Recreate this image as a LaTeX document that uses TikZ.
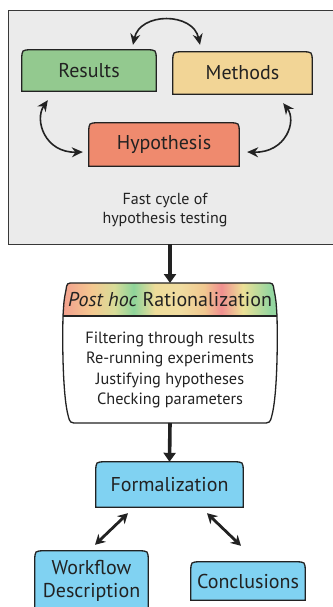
\documentclass[tikz,border=0pt]{standalone}
\usepackage{fontspec}
\setmainfont{PT Sans}
\usetikzlibrary{arrows.meta,calc}
\pgfdeclarelayer{bg}
\pgfsetlayers{bg,main}
\definecolor{grayfill}{HTML}{EBEBEB}
\definecolor{resgreen}{HTML}{93C98F}
\definecolor{mettan}{HTML}{F2D596}
\definecolor{hypred}{HTML}{EF8A6E}
\definecolor{boxblue}{HTML}{80D2F2}
\definecolor{ink}{HTML}{222222}
\definecolor{rc1}{HTML}{F3A08E}
\definecolor{rc2}{HTML}{F4C890}
\definecolor{rc3}{HTML}{D8DC98}
\definecolor{rc4}{HTML}{8ED49A}
\definecolor{rc5}{HTML}{EEDC9A}
\definecolor{rc6}{HTML}{F0DCA0}
\definecolor{rc7}{HTML}{F0C890}
\definecolor{rc8}{HTML}{F09090}
\definecolor{rc9}{HTML}{ECE096}
\definecolor{rc10}{HTML}{94D6A0}
\pgfdeclarehorizontalshading{rainbow}{100bp}{color(0bp)=(rc1); color(25bp)=(rc1); color(31.75bp)=(rc2); color(37bp)=(rc3); color(41.5bp)=(rc4); color(46.5bp)=(rc5); color(52.5bp)=(rc6); color(58bp)=(rc7); color(62bp)=(rc8); color(67bp)=(rc9); color(73.5bp)=(rc10); color(100bp)=(rc10)}
\newcommand\tabshape[2]{%
  \begin{pgfonlayer}{bg}
  \filldraw[fill=#2,draw=ink,line width=1.3pt]
    (#1.south west) -- ([yshift=-10pt]#1.north west)
    .. controls (#1.north west) .. ([xshift=10pt]#1.north west)
    -- ([xshift=-10pt]#1.north east)
    .. controls (#1.north east) .. ([yshift=-10pt]#1.north east)
    -- (#1.south east) -- cycle;
  \end{pgfonlayer}}
\tikzset{
  boxnode/.style={minimum width=#1,inner sep=0pt,text=ink,font=\fontsize{20}{23}\selectfont,align=center},
  cyclearrow/.style={draw=ink,line width=1.6pt,{Stealth[length=11pt,width=10pt]}-{Stealth[length=11pt,width=10pt]}},
  bigarrow/.style={draw=ink,line width=3.6pt,-{Triangle[length=9pt,width=12pt]}},
  dblarrow/.style={draw=ink,line width=2.8pt,{Stealth[length=10pt,width=11pt]}-{Stealth[length=10pt,width=11pt]}},
  plaintext/.style={text=ink,align=center,inner sep=0pt}
}
\begin{document}
\begin{tikzpicture}[x=1pt,y=-1pt]
\useasboundingbox (0,0) rectangle (332,607);
% grey cycle panel
\node[draw=none,minimum width=326pt,minimum height=233pt,inner sep=0pt] (cyc) at (172,127.5) {};
\begin{pgfonlayer}{bg}
\fill[grayfill] (cyc.north west) rectangle (cyc.south east);
\draw[draw=ink!90,line width=1.1pt] (cyc.north east) -- (cyc.north west) -- (cyc.south west) -- (cyc.south east);
\end{pgfonlayer}
% boxes in the cycle
\node[boxnode=134pt,minimum height=41pt] (res) at (89,70.5) {Results};
\tabshape{res}{resgreen}
\node[boxnode=139pt,minimum height=42pt] (met) at (242.5,73) {Methods};
\tabshape{met}{mettan}
\node[boxnode=150pt,minimum height=43pt] (hyp) at (164,144.5) {Hypothesis};
\tabshape{hyp}{hypred}
\node[plaintext,font=\fontsize{16}{19}\selectfont] (fast) at (165,210) {Fast cycle of\\hypothesis testing};
% cycle arrows
\draw[cyclearrow] ($(res.north)+(44,-5)$) .. controls (140,12) and (193,12) .. ($(met.north)+(-42.5,-7)$);
\draw[cyclearrow] ($(res.south west)+(26,9)$) .. controls (34,120) and (45,153) .. ($(hyp.west)+(-6,7.5)$);
\draw[cyclearrow] ($(met.south east)+(-29,9)$) .. controls (297,121) and (286,153) .. ($(hyp.east)+(8,7.5)$);
% post hoc rationalization
\coordinate (phtop) at (170,283);
\fill[white] (63,316) .. controls (62,360) and (64,400) .. (68,415) .. controls (70,423) .. (78,423) -- (262,423) .. controls (270,423) .. (272,415) .. controls (276,400) and (278,360) .. (277,316) -- cycle;
\shade[shading=rainbow] (63,316) .. controls (64,300) .. (66,290) .. controls (67,283) .. (74,283) -- (266,283) .. controls (273,283) .. (274,290) .. controls (276,300) .. (277,316) -- cycle;
\draw[ink,line width=1.3pt] (63,316) .. controls (64,300) .. (66,290) .. controls (67,283) .. (74,283) -- (266,283) .. controls (273,283) .. (274,290) .. controls (276,300) .. (277,316)
  .. controls (278,360) and (276,400) .. (272,415) .. controls (270,423) .. (262,423) -- (78,423) .. controls (70,423) .. (68,415) .. controls (64,400) and (62,360) .. (63,316) -- cycle;
\draw[ink,line width=1.3pt] (63,316) -- (277,316);
\node[plaintext,font=\fontsize{20}{23}\selectfont] (post) at (170,300) {\textit{Post hoc} Rationalization};
\node[plaintext,font=\fontsize{16.3}{20.6}\selectfont] (steps) at (170,370) {Filtering through results\\Re-running experiments\\Justifying hypotheses\\Checking parameters};
\coordinate (phbot) at (170,423);
% formalization and outputs
\node[boxnode=147pt,minimum height=45pt] (form) at (169.5,484.5) {Formalization};
\tabshape{form}{boxblue}
\node[boxnode=113pt,minimum height=59pt] (wf) at (91.5,580.5) {Workflow\\Description};
\tabshape{wf}{boxblue}
\node[boxnode=114pt,minimum height=38pt] (conc) at (248,581) {Conclusions};
\tabshape{conc}{boxblue}
% connectors
\draw[bigarrow] (cyc.south -| phtop) -- (phtop);
\draw[bigarrow] (phbot) -- (form.north);
\draw[dblarrow] ($(form.south)+(-41.5,6)$) -- ($(wf.north)+(3.5,-6)$);
\draw[dblarrow] ($(form.south)+(37.5,6)$) -- ($(conc.north)+(-7,-16)$);
\end{tikzpicture}
\end{document}
